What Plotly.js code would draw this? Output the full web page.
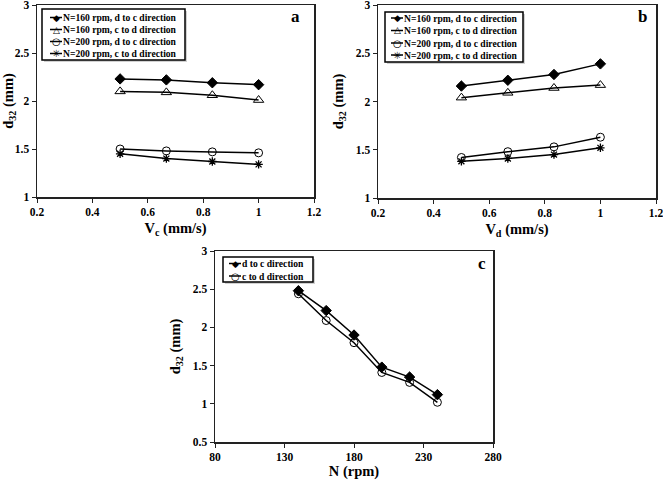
<!DOCTYPE html>
<html>
<head>
<meta charset="utf-8">
<script src="https://cdn.plot.ly/plotly-3.0.1.min.js"></script>
<style>html,body{margin:0;padding:0;background:#fff;}#chart{width:663px;height:481px;}</style>
</head>
<body>
<div id="chart"></div>
<script>
// ---- data ----
const vcValues = [0.5, 0.667, 0.833, 1.0];
const a_N160_dc = [2.23, 2.22, 2.19, 2.17];
const a_N160_cd = [2.10, 2.09, 2.06, 2.01];
const a_N200_dc = [1.50, 1.48, 1.47, 1.46];
const a_N200_cd = [1.45, 1.40, 1.37, 1.34];

const vdValues = [0.5, 0.667, 0.833, 1.0];
const b_N160_dc = [2.16, 2.22, 2.28, 2.39];
const b_N160_cd = [2.04, 2.09, 2.14, 2.17];
const b_N200_dc = [1.42, 1.48, 1.53, 1.63];
const b_N200_cd = [1.38, 1.41, 1.45, 1.52];

const nValues = [140, 160, 180, 200, 220, 240];
const c_dc = [2.48, 2.22, 1.90, 1.48, 1.35, 1.12];
const c_cd = [2.44, 2.09, 1.80, 1.41, 1.28, 1.02];

const seriesNamesAB = ["N=160 rpm, d to c direction", "N=160 rpm, c to d direction",
                       "N=200 rpm, d to c direction", "N=200 rpm, c to d direction"];
const seriesNamesC = ["d to c direction", "c to d direction"];

// ---- styling ----
const W = 663, H = 481;
const FONT = "Liberation Serif";
const symbols = [
  {symbol: "diamond", size: 8, color: "#000", line: {color: "#000", width: 1}},
  {symbol: "triangle-up-open", size: 9, color: "#000", line: {color: "#000", width: 1}},
  {symbol: "circle-open", size: 8, color: "#000", line: {color: "#000", width: 1}},
  {symbol: "asterisk-open", size: 7, color: "#000", line: {color: "#000", width: 1.3}}
];
const glyphs = ["◆", "△", "○", "✳"];
const glyphSize = [9, 9, 10, 10];

function px(x) { return x / W; }
function py(y) { return 1 - y / H; }

const traces = [];
function addSeries(xs, ys, name, symIdx, xa, ya) {
  const s = symbols[symIdx];
  traces.push({
    x: xs, y: ys, name: name, type: "scatter", mode: "lines+markers",
    xaxis: xa, yaxis: ya, showlegend: false, cliponaxis: false,
    line: {color: "#000", width: 1.5},
    marker: {symbol: s.symbol, size: s.size, color: s.color, line: s.line}
  });
}
addSeries(vcValues, a_N160_dc, seriesNamesAB[0], 0, "x", "y");
addSeries(vcValues, a_N160_cd, seriesNamesAB[1], 1, "x", "y");
addSeries(vcValues, a_N200_dc, seriesNamesAB[2], 2, "x", "y");
addSeries(vcValues, a_N200_cd, seriesNamesAB[3], 3, "x", "y");
addSeries(vdValues, b_N160_dc, seriesNamesAB[0], 0, "x2", "y2");
addSeries(vdValues, b_N160_cd, seriesNamesAB[1], 1, "x2", "y2");
addSeries(vdValues, b_N200_dc, seriesNamesAB[2], 2, "x2", "y2");
addSeries(vdValues, b_N200_cd, seriesNamesAB[3], 3, "x2", "y2");
addSeries(nValues, c_dc, seriesNamesC[0], 0, "x3", "y3");
addSeries(nValues, c_cd, seriesNamesC[1], 2, "x3", "y3");

const tickFont = {family: FONT, size: 11.5, color: "#000", weight: "bold"};
const titleFont = {family: FONT, size: 14.5, color: "#000", weight: "bold"};
function axis(domain, range, dtick, title, anchor, standoff) {
  return {
    domain: domain, range: range, dtick: dtick, tick0: range[0], anchor: anchor,
    showgrid: false, zeroline: false, showline: true, mirror: true,
    linecolor: "#222", linewidth: 1.5, ticks: "outside", ticklen: 4, tickwidth: 1,
    tickcolor: "#222", tickfont: tickFont, fixedrange: true, ticklabeloverflow: "allow",
    title: {text: title, font: titleFont, standoff: standoff}
  };
}

const layout = {
  width: W, height: H, margin: {l: 0, r: 0, t: 0, b: 0},
  paper_bgcolor: "#fff", plot_bgcolor: "#fff", showlegend: false,
  font: {family: FONT, color: "#000"},
  xaxis: axis([px(37), px(314)], [0.2, 1.2], 0.2, "V<sub>c</sub> (mm/s)", "y", 5),
  yaxis: axis([py(197), py(5)], [1, 3], 0.5, "d<sub>32</sub> (mm)", "x", 9),
  xaxis2: axis([px(378), px(656)], [0.2, 1.2], 0.2, "V<sub>d</sub> (mm/s)", "y2", 5),
  yaxis2: axis([py(198), py(5)], [1, 3], 0.5, "d<sub>32</sub> (mm)", "x2", 9),
  xaxis3: axis([px(215), px(493)], [80, 280], 50, "N (rpm)", "y3", 3),
  yaxis3: axis([py(442), py(251)], [0.5, 3], 0.5, "d<sub>32</sub> (mm)", "x3", 9),
  shapes: [], annotations: []
};

// custom compact legends
function addLegend(box, rows, names, syms, symX, lineX0, lineX1, textX) {
  layout.shapes.push({type: "rect", xref: "paper", yref: "paper",
    x0: px(box[0] + 2), x1: px(box[1] + 2), y0: py(box[3] + 2), y1: py(box[2] + 2),
    line: {width: 0}, fillcolor: "rgba(0,0,0,0.18)", layer: "below"});
  layout.shapes.push({type: "rect", xref: "paper", yref: "paper",
    x0: px(box[0]), x1: px(box[1]), y0: py(box[3]), y1: py(box[2]),
    line: {color: "#000", width: 1.5}, fillcolor: "#fff", layer: "below"});
  names.forEach((nm, i) => {
    const yy = rows[i];
    layout.shapes.push({type: "line", xref: "paper", yref: "paper",
      x0: px(lineX0), x1: px(lineX1), y0: py(yy), y1: py(yy),
      line: {color: "#000", width: 1.5}});
    layout.annotations.push({xref: "paper", yref: "paper", x: px(symX), y: py(yy),
      xanchor: "center", yanchor: "middle", showarrow: false, borderpad: 0,
      text: glyphs[syms[i]], font: {family: "DejaVu Sans", size: glyphSize[syms[i]], color: "#000"}});
    layout.annotations.push({xref: "paper", yref: "paper", x: px(textX), y: py(yy),
      xanchor: "left", yanchor: "middle", showarrow: false, borderpad: 0,
      text: "<b>" + nm + "</b>", font: {family: FONT, size: 9.6, color: "#000"}});
  });
}
addLegend([42, 185, 9, 60], [17.5, 29.5, 41.5, 53.5], seriesNamesAB, [0,1,2,3], 56, 50, 62, 62);
addLegend([385, 523, 12, 62], [18, 30.5, 43, 55], seriesNamesAB, [0,1,2,3], 397, 391, 403, 403);
addLegend([223, 313, 257, 282], [263.5, 276], seriesNamesC, [0,2], 235, 229, 241, 241);

// panel letters
[["a", 295, 17], ["b", 642, 16], ["c", 482, 263]].forEach(l => {
  layout.annotations.push({xref: "paper", yref: "paper", x: px(l[1]), y: py(l[2]),
    xanchor: "center", yanchor: "middle", showarrow: false,
    text: "<b>" + l[0] + "</b>", font: {family: FONT, size: 17, color: "#000"}});
});

Plotly.newPlot("chart", traces, layout, {staticPlot: true, displayModeBar: false});
</script>
</body>
</html>
